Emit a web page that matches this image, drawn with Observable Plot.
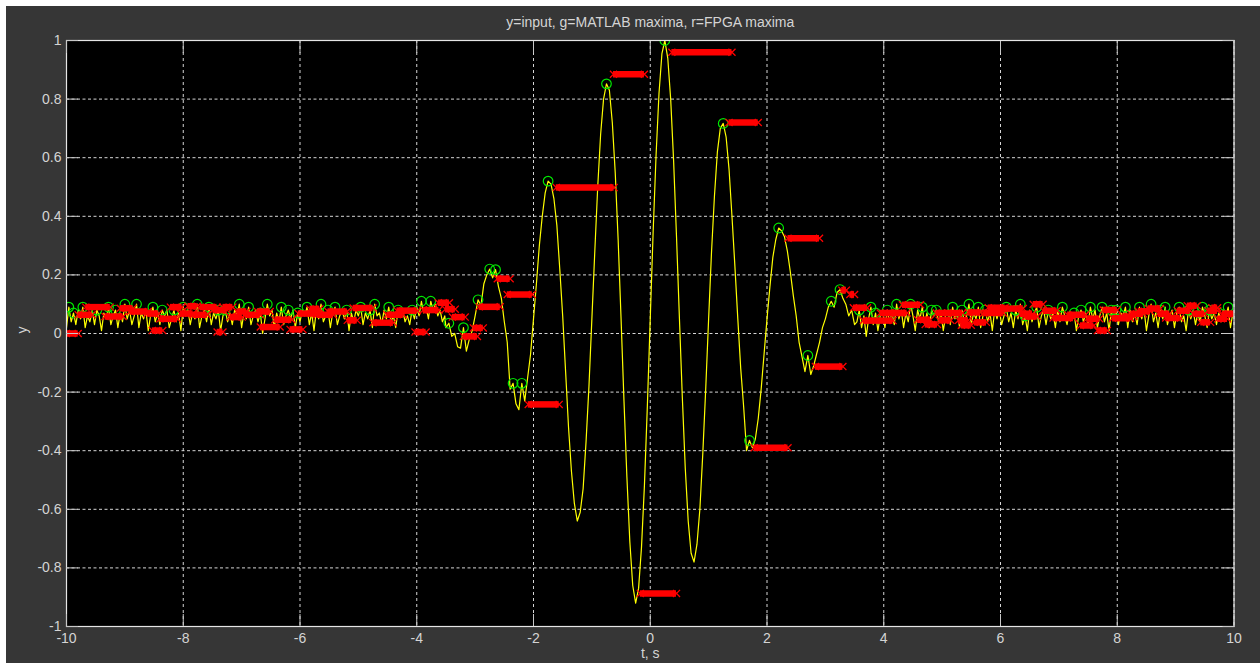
<!DOCTYPE html>
<html><head><meta charset="utf-8">
<script src="https://cdn.jsdelivr.net/npm/d3@7"></script>
<script src="https://cdn.jsdelivr.net/npm/@observablehq/plot@0.6"></script>
<style>
html,body{margin:0;padding:0;background:#fff;width:1260px;height:663px;overflow:hidden;}
#fig{position:absolute;left:6px;top:6px;width:1254px;height:657px;background:#363636;}
#fig svg{display:block;}
</style></head><body><div id="fig"></div>
<script>
const titleText = "y=input, g=MATLAB maxima, r=FPGA maxima";
const xLabel = "t, s";
const yLabel = "y";
const xTicks = [-10, -8, -6, -4, -2, 0, 2, 4, 6, 8, 10];
const yTicks = [-1, -0.8, -0.6, -0.4, -0.2, 0, 0.2, 0.4, 0.6, 0.8, 1];

// input signal, left noise part (t = -10 + 0.04 i)
const leftNoiseStart = -10, leftNoiseStep = 0.04;
const leftNoise = [
 .02,.09,.04,.07,.03,.08,.05,.09,.02,.06,
 .04,.08,.03,.08,.06,.01,.07,.05,.09,.03,
 .06,.08,.02,.07,.04,.10,.05,.08,.03,.06,
 .10,.02,.07,.05,.08,.01,.06,.09,.04,.07,
 .03,.08,.06,.08,.02,.05,.08,.04,.07,.01,
 .09,.06,.08,.03,.07,.05,.10,.02,.06,.08,
 .04,.09,.03,.07,.05,.08,.01,.06,.08,.04,
 .07,.03,.08,.06,.10,.02,.07,.05,.09,.03,
 .06,.08,.04,.07,0,.05,.10,.06,.08,.02,
 .07,.04,.09,.03,.06,.08,.05,.08,.02,.07,
 .04,.08,.06,.09,.03,.07,.01,.08,.05,.10,
 .04,.06,.08,.02,.07,.09,.03,.06,.08,.05,
 .08,.01,.07,.04,.08,.06,.09,.03,.07,.05,
 .08,.02,.10,.06,.07,.03,.08,.05,.09,.04,
 .06,.02,.08,.07,.08,.04,.06,.03,.08,.05,
 .09,.06,.11,.07,.09,.05,.11,.08,.10,.06,
 .08,.04,.06
];
// input signal, wavelet part (t = -3.5 + 0.05 j)
const waveStart = -3.5, waveStep = 0.05;
const waveValues = [
 .02,.035,-.01,0,-.045,-.05,.02,-.06,-.02,.01,
 .06,.115,.095,.17,.20,.22,.19,.218,.16,.12,
 .04,-.03,-.19,-.17,-.24,-.26,-.17,-.23,-.15,-.07,
 .05,.17,.30,.40,.48,.52,.51,.46,.37,.22,
 .06,-.13,-.32,-.47,-.58,-.64,-.61,-.53,-.37,-.18,
 .05,.28,.50,.68,.80,.852,.83,.72,.55,.32,
 .05,-.23,-.49,-.71,-.86,-.92,-.87,-.73,-.52,-.25,
 .05,.35,.61,.82,.955,1.0,.94,.80,.59,.33,
 .05,-.22,-.46,-.64,-.75,-.78,-.72,-.60,-.41,-.19,
 .05,.28,.47,.62,.70,.717,.67,.56,.40,.23,
 .05,-.12,-.25,-.40,-.365,-.39,-.36,-.29,-.19,-.07,
 .05,.16,.26,.32,.36,.35,.33,.28,.21,.13,
 .06,-.03,-.08,-.13,-.075,-.14,-.11,-.07,-.03,.02,
 .05,.09,.11,.09,.14,.15,.12,.10,.06,.08,
 .03
];
// input signal, right noise part (t = 3.54 + 0.04 i)
const rightNoiseStart = 3.54, rightNoiseStep = 0.04;
const rightNoise = [
 .04,.08,.02,.06,-.01,.05,.09,.03,.07,.01,
 .06,.08,.02,.08,.04,.07,.03,.10,.05,.08,
 .02,.07,.04,.10,.06,.01,.08,.05,.09,.03,
 .07,.02,.08,.06,.08,.04,.07,.01,.06,.08,
 .03,.09,.05,.07,.02,.08,.04,.06,.10,.03,
 .07,.05,.09,.02,.06,.08,.04,.07,.01,.08,
 .05,.08,.03,.06,.09,.04,.07,.02,.08,.05,
 .10,.03,.06,.01,.08,.04,.07,.09,.02,.06,
 .08,.03,.08,.05,.07,.02,.08,.04,.09,.06,
 .03,.07,.05,.07,.01,.06,.08,.04,.07,.03,
 .09,.05,.08,.02,.06,.09,.04,.07,.01,.08,
 .05,.08,.03,.07,.06,.09,.02,.08,.04,.07,
 .03,.09,.05,.08,.01,.06,.10,.04,.07,.02,
 .08,.05,.09,.03,.06,.08,.02,.07,.09,.04,
 .06,.01,.08,.05,.08,.03,.07,.04,.09,.06,
 .02,.08,.05,.07,.03,.07,.04,.08,.06,.09,
 .02,.07,.05
];

// MATLAB maxima (green circles)
const matlabMaxT = [
 -9.96,-9.88,-9.72,-9.48,-9.28,-9.16,-9.00,-8.80,-8.52,-8.36,
 -8.16,-8.00,-7.76,-7.56,-7.40,-7.28,-7.04,-6.88,-6.68,-6.56,
 -6.32,-6.20,-6.04,-5.88,-5.64,-5.52,-5.40,-5.20,-4.96,-4.80,
 -4.72,-4.48,-4.32,-4.08,-3.92,-3.76,
 -3.45,-3.20,-2.95,-2.75,-2.65,-2.35,-2.20,-1.75,-0.75,0.25,1.25,1.70,2.20,2.70,3.10,3.25,
 3.58,3.78,3.86,4.06,4.22,4.46,4.66,4.82,4.90,5.18,
 5.34,5.46,5.62,5.74,5.90,6.10,6.26,6.34,6.42,6.62,
 6.82,7.06,7.26,7.38,7.54,7.74,7.90,7.98,8.14,8.38,
 8.58,8.74,8.82,9.06,9.22,9.30,9.46,9.58,9.74,9.90
];
const matlabMaxY = [
 .09,.07,.09,.08,.09,.08,.10,.10,.09,.08,
 .08,.09,.10,.09,.08,.08,.10,.09,.07,.10,
 .09,.08,.07,.09,.10,.08,.09,.08,.09,.08,
 .10,.09,.08,.08,.11,.11,
 .035,.02,.115,.22,.218,-.17,-.17,.52,.852,1.0,.717,-.365,.36,-.075,.11,.15,
 .08,.09,.07,.08,.10,.10,.09,.08,.08,.09,
 .08,.10,.09,.08,.08,.09,.08,.10,.06,.09,
 .08,.09,.07,.08,.09,.09,.08,.08,.09,.09,
 .10,.08,.09,.09,.08,.08,.09,.08,.07,.09
];

// FPGA maxima (red x markers, held values)
const fpgaStart = [
 -10.00,-9.80,-9.67,-9.34,-9.08,-8.91,-8.62,-8.53,-8.40,-8.22,
 -8.05,-7.92,-7.83,-7.71,-7.49,-7.42,-7.32,-7.20,-7.08,-6.94,
 -6.73,-6.68,-6.43,-6.17,-6.03,-5.83,-5.71,-5.52,-5.19,-5.09,
 -4.75,-4.51,-4.34,-4.03,-3.89,-3.63,-3.51,-3.39,-3.20,-3.03,
 -2.93,-2.62,-2.45,-2.09,-1.61,-0.63,-0.17,0.37,1.35,1.78,
 2.36,2.83,3.28,3.42,3.48,3.65,3.94,4.11,4.32,4.58,
 4.71,4.90,4.95,5.09,5.28,5.33,5.45,5.55,5.71,5.79,
 6.05,6.34,6.43,6.56,6.73,6.90,7.15,7.37,7.48,7.66,
 7.76,7.92,8.09,8.23,8.36,8.53,8.70,8.83,9.03,9.20,
 9.30,9.43,9.55,9.62,9.72,9.80
];
const fpgaEnd = [
 -9.80,-9.56,-9.25,-9.03,-8.86,-8.60,-8.42,-8.35,-8.10,-8.02,
 -7.83,-7.76,-7.59,-7.42,-7.25,-7.32,-7.15,-6.99,-6.91,-6.68,
 -6.51,-6.34,-6.14,-5.95,-5.71,-5.66,-5.43,-5.19,-5.02,-4.75,
 -4.40,-4.23,-3.99,-3.84,-3.62,-3.44,-3.34,-3.17,-2.96,-2.86,
 -2.57,-2.40,-2.02,-1.56,-0.62,-0.10,0.45,1.40,1.85,2.36,
 2.90,3.30,3.36,3.50,3.72,4.16,4.20,4.40,4.63,4.80,
 4.92,5.10,5.15,5.35,5.45,5.50,5.66,5.76,6.05,6.08,
 6.39,6.55,6.63,6.73,6.97,7.25,7.46,7.60,7.70,7.83,
 8.00,8.23,8.28,8.45,8.57,8.74,8.90,9.08,9.25,9.37,
 9.50,9.60,9.72,9.72,9.89,10.00
];
const fpgaValue = [
 0.000,0.064,0.090,0.058,0.086,0.075,0.068,0.010,0.050,0.090,
 0.068,0.093,0.064,0.090,0.080,0.005,0.090,0.056,0.075,0.064,
 0.075,0.022,0.047,0.014,0.068,0.084,0.064,0.075,0.045,0.087,
 0.037,0.064,0.078,0.005,0.080,0.105,0.083,0.056,-0.010,0.019,
 0.091,0.187,0.133,-0.242,0.498,0.885,-0.887,0.960,0.720,-0.390,
 0.325,-0.113,0.148,0.133,0.088,0.044,0.070,0.070,0.098,0.047,
 0.031,0.070,0.045,0.070,0.045,0.028,0.072,0.038,0.070,0.088,
 0.085,0.067,0.058,0.100,0.078,0.053,0.064,0.027,0.050,0.010,
 0.080,0.052,0.058,0.067,0.076,0.085,0.067,0.053,0.078,0.095,
 0.067,0.038,0.078,0.088,0.050,0.067
];

// tables built from the arrays
const input = [
  ...leftNoise.map((y, i) => ({t: leftNoiseStart + i * leftNoiseStep, y})),
  ...waveValues.map((y, j) => ({t: waveStart + j * waveStep, y})),
  ...rightNoise.map((y, i) => ({t: rightNoiseStart + i * rightNoiseStep, y}))
];
const matlab = matlabMaxT.map((t, i) => ({t, y: matlabMaxY[i]}));
const fpga = fpgaStart.map((t1, i) => ({t1, t2: fpgaEnd[i], v: fpgaValue[i]}));

const labelColor = "#d4d4d4";
const axisColor = "#c8c8c8";
const fontFamily = "'Liberation Sans', Arial, Helvetica, sans-serif";
const fmtY = d => String(+d.toFixed(1));

const chart = Plot.plot({
  width: 1254, height: 657,
  marginLeft: 60, marginRight: 26.5, marginTop: 34, marginBottom: 37,
  style: {background: "transparent", fontFamily, fontSize: "14px", color: labelColor, overflow: "visible"},
  x: {domain: [-10, 10]},
  y: {domain: [-1, 1]},
  marks: [
    Plot.frame({fill: "#000000"}),
    Plot.gridX(xTicks, {stroke: "#e0e0e0", strokeOpacity: 0.95, strokeDasharray: "3,3"}),
    Plot.gridY(yTicks, {stroke: "#e0e0e0", strokeOpacity: 0.95, strokeDasharray: "3,2.5"}),
    Plot.line(input, {x: "t", y: "y", stroke: "#ffff00", strokeWidth: 1.2, clip: true}),
    Plot.dot(matlab, {x: "t", y: "y", r: 4.8, stroke: "#00e600", strokeWidth: 1.2, clip: true}),
    Plot.ruleY(fpga, {x1: "t1", x2: "t2", y: "v", stroke: "#ff0000", strokeWidth: 6.5, clip: true}),
    Plot.dot(fpga, {x: "t1", y: "v", symbol: "times", r: 3.3, stroke: "#ff0000", strokeWidth: 1.3, clip: true}),
    Plot.dot(fpga, {x: "t2", y: "v", symbol: "times", r: 3.3, stroke: "#ff0000", strokeWidth: 1.3, clip: true}),
    Plot.frame({stroke: "#e6e6e6", strokeWidth: 1.2}),
    // inward ticks on all four sides
    Plot.axisX(xTicks, {anchor: "bottom", tickSize: 12, dy: -12, tickFormat: () => "", label: null, stroke: axisColor}),
    Plot.axisX(xTicks, {anchor: "top", tickSize: 12, dy: 12, tickFormat: () => "", label: null, stroke: axisColor}),
    Plot.axisY(yTicks, {anchor: "left", tickSize: 12, dx: 12, tickFormat: () => "", label: null, stroke: axisColor}),
    Plot.axisY(yTicks, {anchor: "right", tickSize: 12, dx: -12, tickFormat: () => "", label: null, stroke: axisColor}),
    // tick labels
    Plot.axisX(xTicks, {anchor: "bottom", tickSize: 0, tickPadding: 7, tickFormat: d => String(d), label: null, fill: labelColor, fontSize: 14}),
    Plot.axisY(yTicks, {anchor: "left", tickSize: 0, tickPadding: 5, tickFormat: fmtY, label: null, fill: labelColor, fontSize: 14}),
    // title and axis labels
    Plot.text([titleText], {text: d => d, frameAnchor: "top", dy: -23, fill: labelColor, fontSize: 14}),
    Plot.text([xLabel], {text: d => d, frameAnchor: "bottom", dy: 31, fill: labelColor, fontSize: 14}),
    Plot.text([yLabel], {text: d => d, frameAnchor: "left", dx: -44, rotate: -90, fill: labelColor, fontSize: 14})
  ]
});
document.getElementById("fig").appendChild(chart);
</script>
</body></html>
